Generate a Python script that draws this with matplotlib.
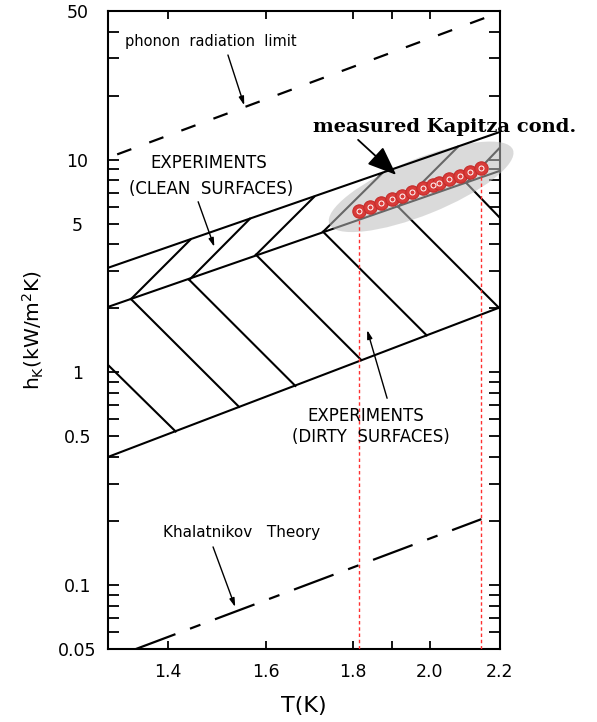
import matplotlib.pyplot as plt
from matplotlib.patches import Ellipse
from matplotlib import transforms

# Kapitza conductance vs temperature
# band edges (T in K, h_K in kW/m^2K)
T_edge = [1.29, 2.2]
h_clean_top = [3.1, 13.5]
h_middle = [2.03, 8.86]        # bottom of clean band = top of dirty band
h_dirty_bottom = [0.40, 2.02]

phonon_T = [1.29, 2.2]
phonon_h = [10.2, 49.3]

khal_T = [1.34, 2.145]
khal_h = [0.05, 0.204]

# hatch lines start on the middle edge
node_T = [1.331, 1.441, 1.578, 1.729, 1.915, 2.101]
node_h = [2.21, 2.72, 3.57, 4.58, 6.00, 7.78]
up_T = [1.443, 1.565, 1.708, 1.874, 2.078, 2.2]
up_h = [4.20, 5.27, 6.68, 8.63, 11.5, 11.4]
down_T = [1.542, 1.665, 1.821, 1.991, 2.197, 2.2]
down_h = [0.688, 0.863, 1.144, 1.492, 2.01, 5.32]
# partial hatch coming in from the left edge
edge_T = [1.29, 1.4145]
edge_h = [1.083, 0.527]

# measured Kapitza conductance
meas_T = [1.816, 1.844, 1.871, 1.899, 1.925, 1.951, 1.982, 2.007, 2.025,
          2.053, 2.082, 2.112, 2.144]
meas_h = [5.75, 5.99, 6.24, 6.51, 6.76, 7.02, 7.34, 7.60, 7.80, 8.10,
          8.42, 8.77, 9.15]

x_ticks = [1.4, 1.6, 1.8, 2.0, 2.2]
x_labels = ["1.4", "1.6", "1.8", "2.0", "2.2"]
y_ticks = [0.05, 0.1, 0.5, 1, 5, 10, 50]
y_labels = ["0.05", "0.1", "0.5", "1", "5", "10", "50"]

fig = plt.figure(figsize=(5.97, 7.22), dpi=100)
ax = fig.add_axes([0.1809, 0.1011, 0.8375 - 0.1809, 0.9848 - 0.1011])
ax.set_xscale("log")
ax.set_yscale("log")
ax.set_xlim(1.29, 2.2)
ax.set_ylim(0.05, 50)

lw = 1.5
# bands
ax.plot(T_edge, h_clean_top, color="black", lw=lw, zorder=4)
ax.plot(T_edge, h_middle, color="black", lw=lw, zorder=2)
ax.plot(T_edge, h_dirty_bottom, color="black", lw=lw, zorder=2)
for i in range(len(node_T)):
    ax.plot([node_T[i], up_T[i]], [node_h[i], up_h[i]], color="black", lw=lw, zorder=2)
    ax.plot([node_T[i], down_T[i]], [node_h[i], down_h[i]], color="black", lw=lw, zorder=2)
ax.plot(edge_T, edge_h, color="black", lw=lw, zorder=2)

# theory lines
ax.plot(phonon_T, phonon_h, color="black", lw=1.6, linestyle=(11, (6.8, 8.6)))
ax.plot(khal_T, khal_h, color="black", lw=1.6, linestyle=(0, (19, 7, 5, 7)))

# grey highlight round the measurement
trans = fig.dpi_scale_trans + transforms.ScaledTranslation(1.976, 7.45, ax.transData)
ax.add_patch(Ellipse((0, 0), 1.98, 0.56, angle=22, transform=trans,
                     color="#bdbdbd", alpha=0.55, lw=0, zorder=3, clip_on=False))

# red dotted guides and measured points
for t, h in [(meas_T[0], meas_h[0]), (meas_T[-1], meas_h[-1])]:
    ax.plot([t, t], [0.05, h], color="#ff3030", lw=1.0, linestyle=(0, (2.5, 2)), zorder=3)
ax.plot(meas_T, meas_h, "o", ms=9.6, mfc="#d93b39", mec="#c42c2a", mew=0.8, zorder=5)
ax.plot(meas_T, meas_h, "o", ms=3.6, mfc="none", mec="white", mew=0.7, zorder=6)

# labels and arrows
txt = dict(ha="center", va="center", transform=ax.transAxes, fontsize=10.5)
ax.text(0.263, 0.952, "phonon  radiation  limit", **txt)
ax.text(0.258, 0.762, "EXPERIMENTS", **dict(txt, fontsize=12))
ax.text(0.264, 0.721, "(CLEAN  SURFACES)", **dict(txt, fontsize=12))
ax.text(0.658, 0.365, "EXPERIMENTS", **dict(txt, fontsize=12))
ax.text(0.670, 0.332, "(DIRTY  SURFACES)", **dict(txt, fontsize=12))
ax.text(0.342, 0.183, "Khalatnikov   Theory", **dict(txt, fontsize=11))
ax.text(0.860, 0.818, "measured Kapitza cond.", ha="center", va="center",
        transform=ax.transAxes, fontsize=14, family="DejaVu Serif",
        fontweight="bold", zorder=7)

thin = dict(arrowstyle="-|>,head_length=0.5,head_width=0.15", color="black", lw=1.0,
            shrinkA=0, shrinkB=0)
ax.annotate("", xy=(1.553, 18.0), xytext=(0.306, 0.931), textcoords="axes fraction", arrowprops=thin)
ax.annotate("", xy=(1.491, 3.89), xytext=(0.230, 0.701), textcoords="axes fraction", arrowprops=thin)
ax.annotate("", xy=(1.836, 1.58), xytext=(0.712, 0.393), textcoords="axes fraction", arrowprops=thin)
ax.annotate("", xy=(1.534, 0.0788), xytext=(0.268, 0.160), textcoords="axes fraction", arrowprops=thin)
ax.annotate("", xy=(1.910, 8.48), xytext=(0.638, 0.798), textcoords="axes fraction",
            arrowprops=dict(arrowstyle="-|>,head_length=1.0,head_width=0.4", color="black",
                            lw=1.3, shrinkA=0, shrinkB=0, mutation_scale=18), zorder=7)

# axes and ticks
ax.set_xticks(x_ticks)
ax.set_xticklabels(x_labels)
ax.set_xticks([1.9], minor=True)
ax.xaxis.set_minor_formatter(plt.NullFormatter())
ax.set_yticks(y_ticks)
ax.set_yticklabels(y_labels)
y_minor = [0.06, 0.07, 0.08, 0.09, 0.2, 0.3, 0.4, 0.6, 0.7, 0.8, 0.9,
           2, 3, 4, 6, 7, 8, 9, 20, 30, 40]
ax.set_yticks(y_minor, minor=True)
ax.yaxis.set_minor_formatter(plt.NullFormatter())

ax.tick_params(axis="both", which="both", direction="in", top=True, right=True,
               width=1.3, labelsize=12.5)
ax.tick_params(axis="x", which="both", length=6, pad=10)
ax.tick_params(axis="y", which="both", length=8, pad=22)
for lab in ax.get_yticklabels():
    lab.set_ha("center")
for s in ax.spines.values():
    s.set_linewidth(1.5)

ax.set_xlabel("T(K)", fontsize=16, va="center")
ax.xaxis.set_label_coords(0.5, -0.089)
ax.set_ylabel(r"h$_\mathregular{K}$(kW/m$^\mathregular{2}$K)", fontsize=14.5, va="center")
ax.yaxis.set_label_coords(-0.191, 0.5)

fig.savefig("out.png", dpi=100)
